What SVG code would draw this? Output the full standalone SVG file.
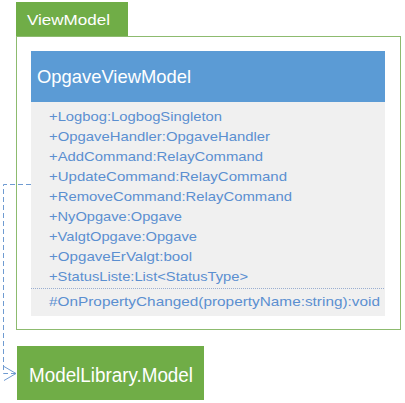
<svg xmlns="http://www.w3.org/2000/svg" width="405" height="403" viewBox="0 0 405 403">
<defs>
<style>
.attr{font-family:"Liberation Sans",Arial,sans-serif;font-size:13.5px;fill:#5b8fd0;}
.white{font-family:"Liberation Sans",Arial,sans-serif;fill:#ffffff;}
.conn{fill:none;stroke:#6f9bd1;stroke-width:1;stroke-dasharray:5,3;}
</style>
<marker id="open" viewBox="0 0 14 16" refX="13" refY="8" markerWidth="14" markerHeight="16" markerUnits="userSpaceOnUse" orient="auto">
<path d="M1,1 L13,8 L1,15" fill="none" stroke="#6f9bd1" stroke-width="1"/>
</marker>
</defs>
<rect width="405" height="403" fill="#ffffff"/>
<g id="package-ViewModel">
<rect x="16.5" y="36.5" width="384" height="293" fill="#ffffff" stroke="#8dbb6f" stroke-width="1"/>
<rect x="16" y="2" width="112" height="34" fill="#70ad47"/>
<text class="white" x="27" y="25" font-size="15" textLength="83" lengthAdjust="spacingAndGlyphs">ViewModel</text>
</g>
<g id="class-OpgaveViewModel">
<rect x="31" y="102" width="354" height="214" fill="#f0f0f0"/>
<rect x="31" y="51" width="354" height="51" fill="#5b9bd5"/>
<text class="white" x="37" y="83" font-size="19" textLength="154" lengthAdjust="spacingAndGlyphs">OpgaveViewModel</text>
<text class="attr" x="49" y="121" textLength="173" lengthAdjust="spacingAndGlyphs">+Logbog:LogbogSingleton</text>
<text class="attr" x="49" y="141" textLength="221" lengthAdjust="spacingAndGlyphs">+OpgaveHandler:OpgaveHandler</text>
<text class="attr" x="49" y="161" textLength="214" lengthAdjust="spacingAndGlyphs">+AddCommand:RelayCommand</text>
<text class="attr" x="49" y="181" textLength="238" lengthAdjust="spacingAndGlyphs">+UpdateCommand:RelayCommand</text>
<text class="attr" x="49" y="201" textLength="243" lengthAdjust="spacingAndGlyphs">+RemoveCommand:RelayCommand</text>
<text class="attr" x="49" y="221" textLength="133" lengthAdjust="spacingAndGlyphs">+NyOpgave:Opgave</text>
<text class="attr" x="49" y="241" textLength="148" lengthAdjust="spacingAndGlyphs">+ValgtOpgave:Opgave</text>
<text class="attr" x="49" y="261" textLength="143" lengthAdjust="spacingAndGlyphs">+OpgaveErValgt:bool</text>
<text class="attr" x="49" y="281" textLength="199" lengthAdjust="spacingAndGlyphs">+StatusListe:List&lt;StatusType&gt;</text>
<line x1="31" y1="288.5" x2="385" y2="288.5" stroke="#9aaed0" stroke-width="1" stroke-dasharray="1,1"/>
<text class="attr" x="49" y="306" textLength="331" lengthAdjust="spacingAndGlyphs">#OnPropertyChanged(propertyName:string):void</text>
</g>
<g id="package-ModelLibrary.Model">
<rect x="17" y="346" width="187" height="54" fill="#70ad47"/>
<text class="white" x="29" y="382" font-size="19.5" textLength="164" lengthAdjust="spacingAndGlyphs">ModelLibrary.Model</text>
</g>
<g id="connectors">
<path class="conn" d="M31,184.5 H3.5 V373.5 H16" marker-end="url(#open)"/>
</g>
</svg>
